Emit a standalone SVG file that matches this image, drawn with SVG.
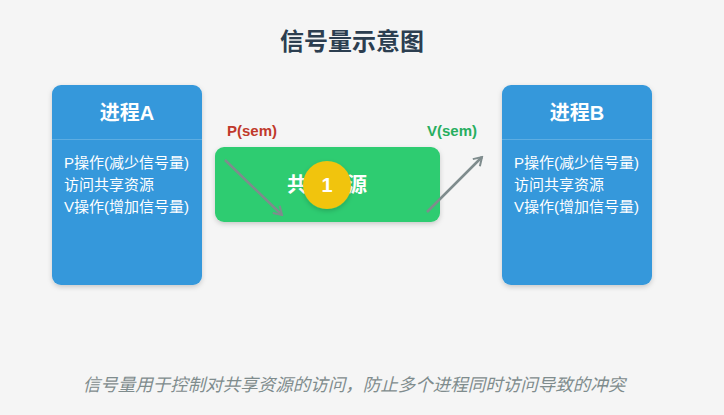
<svg xmlns="http://www.w3.org/2000/svg" width="724" height="415" viewBox="0 0 724 415">
<style>
text{font-family:"Liberation Sans","Noto Sans CJK SC",sans-serif}
.proc{fill:#3498db}
.div{stroke:#5dade2;stroke-width:1}
.ptitle{fill:#fff;font-size:20px;font-weight:bold;text-anchor:middle}
.pbody{fill:#fff;font-size:15px}
.conn{stroke:#7f8c8d;stroke-width:2.5;fill:none}
</style>
<defs>
<filter id="sh" x="-10%" y="-10%" width="120%" height="130%">
<feDropShadow dx="0" dy="2" stdDeviation="2.5" flood-color="#000" flood-opacity="0.18"/>
</filter>
<marker id="arr" markerWidth="12" markerHeight="12" refX="10" refY="6" orient="auto" markerUnits="userSpaceOnUse">
<path d="M2,1 L10,6 L2,11" fill="none" stroke="#7f8c8d" stroke-width="2"/>
</marker>
</defs>
<rect width="724" height="415" fill="#f5f5f5"/>
<text x="352" y="50" text-anchor="middle" font-size="24" font-weight="bold" fill="#2c3e50">信号量示意图</text>
<g id="procA">
<rect class="proc" x="52" y="85" width="150" height="200" rx="9" filter="url(#sh)"/>
<line class="div" x1="52" y1="139.5" x2="202" y2="139.5"/>
<text class="ptitle" x="127" y="120">进程A</text>
<text class="pbody" x="64" y="168">P操作(减少信号量)</text>
<text class="pbody" x="64" y="190">访问共享资源</text>
<text class="pbody" x="64" y="212">V操作(增加信号量)</text>
</g>
<g id="procB">
<rect class="proc" x="502" y="85" width="150" height="200" rx="9" filter="url(#sh)"/>
<line class="div" x1="502" y1="139.5" x2="652" y2="139.5"/>
<text class="ptitle" x="577" y="120">进程B</text>
<text class="pbody" x="514" y="168">P操作(减少信号量)</text>
<text class="pbody" x="514" y="190">访问共享资源</text>
<text class="pbody" x="514" y="212">V操作(增加信号量)</text>
</g>
<g id="resource">
<rect x="215" y="147" width="225" height="75" rx="9" fill="#2ecc71" filter="url(#sh)"/>
<text x="327" y="192" text-anchor="middle" font-size="20" font-weight="bold" fill="#fff">共享资源</text>
</g>
<g id="labels">
<text x="227" y="136" font-size="15" font-weight="bold" fill="#c0392b">P(sem)</text>
<text x="427" y="136" font-size="15" font-weight="bold" fill="#27ae60">V(sem)</text>
</g>
<g id="connectors">
<line class="conn" x1="225" y1="160" x2="282" y2="215" marker-end="url(#arr)"/>
<line class="conn" x1="427" y1="212" x2="482" y2="157" marker-end="url(#arr)"/>
</g>
<g id="semaphore">
<circle cx="327" cy="185" r="24" fill="#f1c40f" filter="url(#sh)"/>
<text x="327" y="192" text-anchor="middle" font-size="20" font-weight="bold" fill="#fff">1</text>
</g>
<text x="354" y="391" text-anchor="middle" font-size="17.5" font-style="italic" fill="#7f8c8d">信号量用于控制对共享资源的访问，防止多个进程同时访问导致的冲突</text>
</svg>
